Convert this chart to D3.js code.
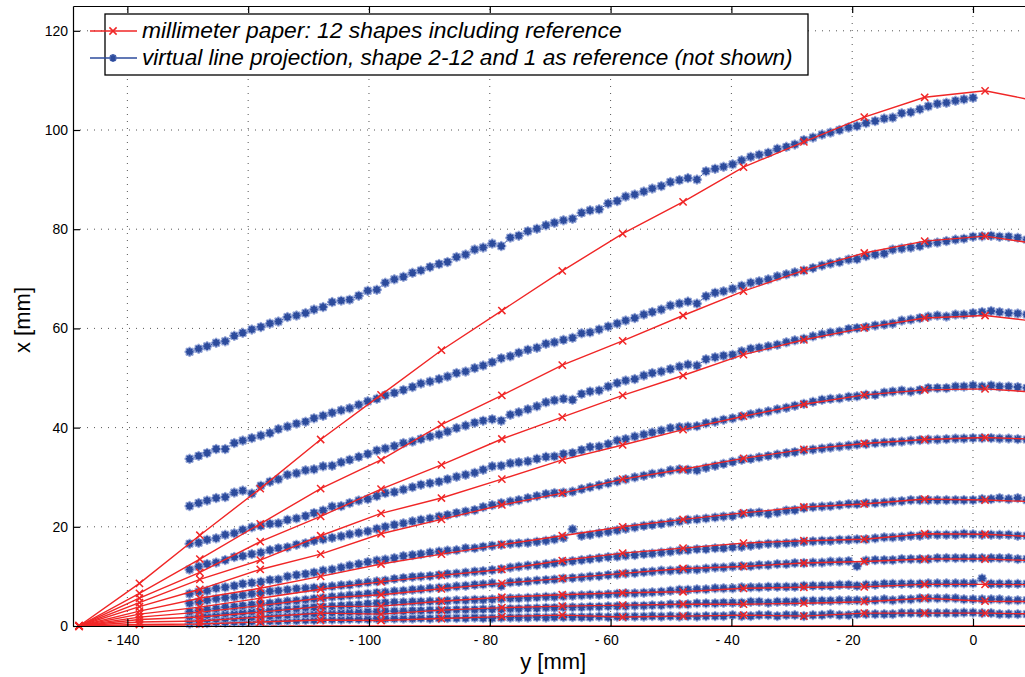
<!DOCTYPE html>
<html><head><meta charset="utf-8">
<script src="https://cdn.jsdelivr.net/npm/d3@7"></script>
<style>body{margin:0;background:#fff}svg{display:block}</style>
</head><body>
<svg id="chart" width="1025" height="677"></svg>
<script>
// ---------- DATA ----------
const xTicks = [-140, -120, -100, -80, -60, -40, -20, 0];
const yTicks = [0, 20, 40, 60, 80, 100, 120];
const legendLabels = ["millimeter paper: 12 shapes including reference",
  "virtual line projection, shape 2-12 and 1 as reference (not shown)"];

// millimeter paper sample positions (y [mm])
const paperY = [-148,-138,-128,-118,-108,-98,-88,-78,-68,-58,-48,-38,-28,-18,-8,2,12];
// millimeter paper shapes (x [mm])
const paperRef = [0,0,0,0,0,0,0,0,0,0,0,0,0,0,0,0,0];
const paperS2  = [0,0.3,0.4,0.8,1.2,1.1,1.5,1.9,2.2,1.8,2.0,2.2,2.0,2.6,2.6,2.6,2.4];
const paperS3  = [0,0.8,1.0,1.8,2.6,2.4,3.2,3.7,4.0,4.2,4.4,4.4,4.6,4.9,5.6,5.0,4.9];
const paperS4  = [0,1.3,1.8,2.8,3.9,4.0,5.0,5.8,6.3,6.7,6.9,7.6,7.8,7.9,8.4,8.4,8.3];
const paperS5  = [0,1.8,2.8,4.1,5.6,6.3,7.5,8.6,9.6,10.6,11.6,12.0,12.7,13.0,13.5,13.5,13.1];
const paperS6  = [0,2.4,3.8,5.6,7.4,8.9,10.2,11.4,13.2,14.7,15.7,16.7,17.2,17.5,18.6,18.5,17.9];
const paperS7  = [0,3.0,5.6,7.6,10.0,12.5,14.5,16.4,18.2,20.0,21.5,22.8,24.0,24.6,25.6,25.4,25.0];
const paperS8  = [0,3.9,7.4,11.4,14.5,18.6,21.5,24.4,26.8,29.6,31.6,33.8,35.6,36.8,37.6,38.0,37.6];
const paperS9  = [0,4.7,9.4,13.3,18.2,22.7,25.8,29.6,33.5,36.5,39.6,42.3,44.7,46.6,47.6,47.8,47.0];
const paperS10 = [0,5.6,10.8,17.0,22.1,27.6,32.5,37.7,42.1,46.5,50.5,54.7,57.7,60.1,62.1,62.6,61.2];
const paperS11 = [0,6.6,13.5,20.6,27.7,33.5,40.6,46.5,52.6,57.5,62.6,67.5,71.7,75.2,77.6,78.6,76.8];
const paperS12 = [0,8.6,18.3,27.7,37.6,46.6,55.6,63.6,71.6,79.1,85.5,92.5,97.6,102.6,106.6,107.9,105.5];

// virtual line projection sample positions (y [mm])
const projY = [-129.7,-128.2,-126.8,-125.3,-123.8,-122.3,-120.9,-119.4,-117.9,-116.4,
  -115.0,-113.5,-112.0,-110.5,-109.1,-107.6,-106.1,-104.6,-103.2,-101.7,
  -100.2,-98.7,-97.3,-95.8,-94.3,-92.8,-91.4,-89.9,-88.4,-87.0,
  -85.5,-84.0,-82.5,-81.1,-79.6,-78.1,-76.6,-75.2,-73.7,-72.2,
  -70.7,-69.3,-67.8,-66.3,-64.8,-63.4,-61.9,-60.4,-58.9,-57.5,
  -56.0,-54.5,-53.1,-51.6,-50.1,-48.6,-47.2,-45.7,-44.2,-42.7,
  -41.3,-39.8,-38.3,-36.8,-35.4,-33.9,-32.4,-30.9,-29.5,-28.0,
  -26.5,-25.0,-23.6,-22.1,-20.6,-19.2,-17.7,-16.2,-14.7,-13.3,
  -11.8,-10.3,-8.8,-7.4,-5.9,-4.4,-2.9,-1.5,0.0,1.5,
  3.0,4.4,5.9,7.4,8.9];
// projected shapes (x [mm])
const projS12 = [55.3,55.9,56.4,57.1,57.4,58.5,59.1,59.8,60.3,61.0,
  61.4,62.3,62.6,63.1,63.8,64.3,65.3,65.6,65.8,66.6,
  67.6,67.8,69.2,69.9,70.4,71.2,71.7,72.4,73.0,73.4,
  74.4,74.9,75.9,76.3,77.1,76.6,78.3,78.7,79.6,80.1,
  80.8,81.3,81.8,82.1,83.3,83.8,84.0,85.2,85.7,86.6,
  87.0,87.6,88.2,88.7,89.5,89.9,90.3,90.0,91.7,92.2,
  92.6,93.1,93.9,94.6,95.0,95.4,96.2,96.6,97.1,98.0,
  98.5,99.1,99.5,100.0,100.5,100.8,101.4,101.8,102.3,102.5,
  103.4,103.6,104.2,104.8,105.3,105.5,105.9,106.2,106.5];
const projS11 = [33.7,34.3,34.9,35.7,35.7,36.9,37.4,37.9,38.4,38.9,
  39.7,40.2,40.8,41.2,41.9,42.4,43.0,43.5,43.9,44.6,
  45.3,45.8,46.5,47.0,47.6,48.2,48.9,49.3,49.8,50.3,
  51.0,51.3,52.0,52.5,53.2,54.0,54.4,55.1,55.7,56.1,
  56.9,57.2,57.7,58.1,59.0,59.2,59.8,60.4,61.0,61.6,
  62.1,62.8,63.3,63.8,64.6,65.0,65.4,65.0,66.5,67.2,
  67.5,68.0,68.6,69.2,69.5,69.9,70.5,70.9,71.3,71.7,
  72.2,72.7,73.1,73.4,73.9,74.0,74.6,74.9,75.1,75.9,
  76.1,76.3,76.6,77.1,77.3,77.6,77.9,78.1,78.5,78.6,
  78.7,78.5,78.5,78.3,77.9];
const projS10 = [24.2,24.8,25.3,25.8,26.0,26.9,27.3,26.7,28.3,29.1,
  29.6,30.5,30.8,31.4,31.6,32.2,32.3,33.0,33.5,34.1,
  34.7,35.4,35.8,36.3,36.9,37.2,37.7,38.2,38.6,39.2,
  39.9,40.4,41.0,41.4,41.7,41.4,42.6,43.1,43.7,44.3,
  45.1,45.5,45.8,45.6,46.8,47.3,47.5,48.3,49.0,49.5,
  49.8,50.5,51.0,51.3,51.8,52.3,52.7,52.5,53.8,54.2,
  54.5,54.7,55.4,55.9,56.1,56.4,56.7,57.2,57.6,57.9,
  58.4,58.8,59.2,59.4,59.9,60.1,60.3,60.6,60.8,61.0,
  61.6,61.8,62.1,62.4,62.6,62.4,62.8,62.8,63.1,63.3,
  63.5,63.3,63.1,63.0,62.8];
const projS9 = [16.6,16.8,17.4,17.7,18.4,18.7,19.4,19.9,20.2,20.6,
  20.7,21.4,21.7,22.2,22.8,23.3,24.1,24.2,24.8,25.3,
  25.6,26.2,26.8,27.0,27.5,28.0,28.5,28.8,29.1,29.6,
  30.1,30.5,30.9,31.5,32.2,32.3,32.8,33.0,33.2,33.7,
  34.1,34.2,34.7,34.9,35.5,36.1,36.2,36.7,37.4,37.7,
  38.2,38.6,39.0,39.4,39.9,40.1,40.2,40.3,40.9,41.2,
  41.6,41.9,42.3,42.7,43.0,43.3,43.7,44.0,44.4,44.8,
  45.2,45.6,45.8,45.9,46.2,46.3,46.6,46.6,47.1,47.3,
  47.5,47.3,47.6,48.0,48.0,48.0,48.3,48.3,48.5,48.3,
  48.5,48.3,48.3,48.2,48.0];
const projS8 = [11.4,12.0,12.5,12.8,13.3,13.9,14.1,14.5,14.8,15.3,
  15.7,15.9,16.4,16.7,17.2,17.5,17.8,18.1,18.5,18.8,
  19.1,19.6,20.0,20.4,20.7,21.1,21.4,21.7,22.1,22.4,
  22.8,23.1,23.4,24.0,24.4,24.8,25.1,25.4,25.8,26.2,
  26.6,26.8,26.9,27.1,27.6,28.0,28.4,28.8,29.2,29.6,
  30.0,30.3,30.7,30.9,31.4,31.6,31.5,31.4,31.9,32.3,
  32.7,33.1,33.5,33.7,34.0,34.3,34.6,34.9,35.1,35.4,
  35.6,35.8,36.0,36.2,36.4,36.6,36.7,36.9,37.0,37.1,
  37.2,37.4,37.5,37.6,37.6,37.7,37.8,37.8,37.9,37.9,
  37.9,37.8,37.8,37.7,37.6];
const projS7 = [6.5,6.9,7.1,7.6,7.8,8.1,8.5,8.7,8.9,9.3,
  9.4,10.0,10.3,10.5,10.8,11.2,11.4,11.8,12.2,12.5,
  12.9,13.2,13.4,13.7,14.1,14.3,14.5,14.8,15.0,15.2,
  15.3,15.7,15.7,16.0,16.2,16.4,16.6,16.7,16.8,17.0,
  17.2,17.5,17.8,19.5,18.2,18.4,18.7,19.0,19.3,19.6,
  19.9,20.2,20.4,20.6,20.9,21.1,21.4,21.5,21.7,21.9,
  22.1,22.2,22.6,22.8,22.9,22.6,22.9,23.3,23.4,23.8,
  24.0,24.1,24.2,24.4,24.6,24.6,24.8,24.8,24.9,25.1,
  25.2,25.4,25.4,25.4,25.4,25.4,25.4,25.4,25.4,25.6,
  25.6,25.8,25.6,25.8,25.4];
const projS6 = [4.6,4.9,5.2,5.5,5.7,5.9,6.2,6.5,6.7,7.0,
  7.1,7.3,7.5,7.6,7.7,7.9,8.0,8.2,8.3,8.6,
  8.8,9.0,9.2,9.5,9.7,9.9,10.0,10.1,10.3,10.5,
  10.6,10.8,11.0,11.1,11.3,11.5,11.8,12.0,12.2,12.3,
  12.5,12.7,12.9,13.1,13.3,13.5,13.7,13.9,14.0,14.2,
  14.3,14.5,14.6,14.8,15.0,15.2,15.3,15.5,15.5,15.7,
  15.7,15.9,16.0,16.2,16.4,16.6,16.6,16.7,16.8,17.0,
  17.1,17.2,17.2,17.4,17.4,17.5,17.5,17.7,17.9,17.9,
  18.0,18.2,18.2,18.4,18.4,18.4,18.4,18.6,18.5,18.4,
  18.4,18.4,18.4,18.2,18.2];
const projS5 = [2.9,3.1,3.3,3.5,3.8,3.9,4.1,4.3,4.5,4.6,
  4.8,5.0,5.1,5.3,5.5,5.7,5.9,6.0,6.2,6.3,
  6.5,6.7,6.8,7.0,7.1,7.3,7.4,7.6,7.7,7.8,
  8.0,8.1,8.3,8.4,8.6,8.1,8.8,8.9,9.0,9.2,
  9.3,9.4,9.6,9.7,9.8,10.0,10.1,10.3,10.4,10.6,
  10.7,10.9,11.0,11.2,11.2,11.3,11.4,11.4,11.6,11.8,
  11.8,12.0,12.1,12.1,12.3,12.3,12.5,12.5,12.7,12.7,
  12.8,12.8,13.0,13.0,13.1,12.1,13.2,13.3,13.3,13.3,
  13.5,13.5,13.5,13.5,13.7,13.7,13.7,13.7,13.7,13.7,
  13.7,13.7,13.7,13.5,13.5];
const projS4 = [1.9,2.0,2.2,2.3,2.5,2.6,2.8,2.9,3.0,3.2,
  3.3,3.4,3.5,3.7,3.8,3.9,4.0,4.1,4.2,4.3,
  4.5,4.6,4.7,4.8,4.8,4.9,4.9,5.0,5.0,5.1,
  5.2,5.2,5.3,5.3,5.4,5.5,5.6,5.6,5.7,5.8,
  5.9,5.9,6.0,6.1,6.2,6.3,6.3,6.4,6.5,6.6,
  6.6,6.7,6.8,6.9,7.1,7.3,7.3,7.4,7.4,7.6,
  7.6,7.6,7.8,7.8,7.8,7.9,7.9,7.9,7.9,8.1,
  8.1,8.1,8.1,8.3,8.3,8.1,8.3,8.3,8.5,8.5,
  8.5,8.5,8.5,8.6,8.6,8.6,8.6,8.6,8.6,9.6,
  8.5,8.5,8.5,8.5,8.5];
const projS3 = [1.1,1.2,1.3,1.4,1.5,1.6,1.7,1.8,1.9,2.0,
  2.1,2.2,2.3,2.4,2.5,2.6,2.7,2.7,2.8,2.8,
  2.9,2.9,3.0,3.0,3.0,3.1,3.1,3.2,3.2,3.2,
  3.3,3.3,3.3,3.4,3.4,3.4,3.5,3.5,3.6,3.6,
  3.7,3.7,3.8,3.8,3.8,3.9,3.9,4.0,4.0,4.0,
  4.1,4.1,4.2,4.2,4.4,4.4,4.4,4.6,4.6,4.6,
  4.7,4.7,4.7,4.9,4.9,4.7,4.9,4.9,4.9,5.1,
  5.1,5.1,5.1,5.2,5.2,5.2,5.2,5.2,5.4,5.2,
  5.4,5.4,5.6,5.6,5.6,5.6,5.6,5.4,5.4,5.4,
  5.4,5.4,5.2,5.2,5.2];
const projS2 = [0.5,0.6,0.6,0.7,0.7,0.8,0.8,0.9,0.9,1.0,
  1.0,1.1,1.1,1.2,1.2,1.3,1.3,1.3,1.4,1.4,
  1.4,1.5,1.5,1.5,1.5,1.5,1.6,1.5,1.6,1.6,
  1.6,1.6,1.7,1.6,1.6,1.7,1.7,1.7,1.7,1.8,
  1.7,1.8,1.8,1.8,1.8,1.8,1.9,1.8,1.9,1.9,
  1.9,1.9,2.0,1.9,2.0,1.9,2.0,1.9,2.0,2.0,
  2.0,2.2,2.0,2.0,2.2,2.2,2.0,2.2,2.2,2.0,
  2.2,2.2,2.4,2.2,2.2,2.4,2.4,2.4,2.4,2.4,
  2.6,2.6,2.6,2.6,2.6,2.6,2.6,2.7,2.7,2.6,
  2.6,2.4,2.4,2.4,2.4];

const paperShapes = [paperS2,paperS3,paperS4,paperS5,paperS6,paperS7,paperS8,paperS9,paperS10,paperS11,paperS12];
const projShapes = [projS2,projS3,projS4,projS5,projS6,projS7,projS8,projS9,projS10,projS11,projS12];

// ---------- DRAW ----------
const RED = "#f02626", BLUE = "#2c4b9c", BLUE_HALO = "#93a4d6";
const FONT = "'Liberation Sans', Arial, Helvetica, sans-serif";
const svg = d3.select("#chart");
const x = d3.scaleLinear().domain([-149, 10]).range([73, 1033.4]);
const y = d3.scaleLinear().domain([0, 125]).range([626, 6]);
const [X0, X1] = x.range(), [Y0, Y1] = y.range();

const crossType = {draw(c, s){const r=Math.sqrt(s)/2;c.moveTo(-r,-r);c.lineTo(r,r);c.moveTo(r,-r);c.lineTo(-r,r);}};
const starType = {draw(c, s){const r=Math.sqrt(s)/2, d=r*0.7071;
  c.moveTo(-r,0);c.lineTo(r,0);c.moveTo(0,-r);c.lineTo(0,r);
  c.moveTo(-d,-d);c.lineTo(d,d);c.moveTo(d,-d);c.lineTo(-d,d);}};
const crossPath = d3.symbol().type(crossType).size(52)();
const starPath = d3.symbol().type(starType).size(56)();

// grid
const grid = svg.append("g").attr("stroke", "#555").attr("stroke-width", 1).attr("stroke-dasharray", "1,6");
grid.selectAll(".gx").data(xTicks).join("line")
  .attr("x1", d => x(d)).attr("x2", d => x(d)).attr("y1", Y0).attr("y2", Y1);
grid.selectAll(".gy").data(yTicks.filter(v => v > 0)).join("line")
  .attr("y1", d => y(d)).attr("y2", d => y(d)).attr("x1", X0).attr("x2", X1);

svg.append("clipPath").attr("id", "plot").append("rect")
  .attr("x", X0).attr("y", Y1).attr("width", X1 - X0).attr("height", Y0 - Y1);

const line = d3.line().x(d => x(d[0])).y(d => y(d[1]));

// reference shape (lies on the axis, drawn as line only)
svg.append("path").attr("d", line(paperRef.map((v, i) => [paperY[i], v])))
  .attr("fill", "none").attr("stroke", RED).attr("stroke-width", 1.4).attr("clip-path", "url(#plot)");

// projections (blue)
const blueG = svg.append("g");
projShapes.forEach(vals => {
  const pts = vals.map((v, i) => [projY[i], v]);
  blueG.append("path").attr("d", line(pts)).attr("fill", "none")
    .attr("stroke", BLUE).attr("stroke-width", 1).attr("clip-path", "url(#plot)");
  blueG.selectAll(null).data(pts).join("path")
    .attr("transform", d => `translate(${x(d[0])},${y(d[1])})`)
    .attr("d", starPath).attr("fill", "none").attr("stroke", BLUE_HALO).attr("stroke-width", 3.0).attr("stroke-linecap","round");
  blueG.selectAll(null).data(pts).join("path")
    .attr("transform", d => `translate(${x(d[0])},${y(d[1])})`)
    .attr("d", starPath).attr("fill", "none").attr("stroke", BLUE).attr("stroke-width", 1.9);
});

// millimeter paper (red)
const redG = svg.append("g");
paperShapes.forEach(vals => {
  const pts = vals.map((v, i) => [paperY[i], v]);
  redG.append("path").attr("d", line(pts)).attr("fill", "none")
    .attr("stroke", RED).attr("stroke-width", 1.4).attr("clip-path", "url(#plot)");
  redG.selectAll(null).data(pts).join("path")
    .attr("transform", d => `translate(${x(d[0])},${y(d[1])})`)
    .attr("d", crossPath).attr("fill", "none").attr("stroke", RED).attr("stroke-width", 1.5);
});

// axes
function styleAxis(g){
  g.selectAll(".domain").attr("stroke", "#000").attr("stroke-width", 1.2);
  g.selectAll(".tick line").attr("stroke", "#000").attr("stroke-width", 1.2);
  g.selectAll("text").attr("font-family", FONT).attr("font-size", 14).attr("fill", "#000");
}
const gx = svg.append("g").attr("transform", `translate(0,${Y0})`)
  .call(d3.axisBottom(x).tickValues(xTicks).tickSizeInner(-7).tickSizeOuter(0).tickPadding(9)
    .tickFormat(d => String(Math.abs(d))));
styleAxis(gx);
// MATLAB-style "- 140" labels: digits centred on tick, minus placed before them
gx.selectAll(".tick").each(function(d){
  if (d < 0) {
    const t = d3.select(this).select("text");
    const w = t.node().getComputedTextLength();
    d3.select(this).append("text").attr("x", -w/2 - 4).attr("y", t.attr("y")).attr("dy", t.attr("dy"))
      .attr("text-anchor", "end").attr("font-family", FONT).attr("font-size", 14).attr("fill", "#000").text("-");
  }
});
const gt = svg.append("g").attr("transform", `translate(0,${Y1})`)
  .call(d3.axisTop(x).tickValues(xTicks).tickSizeInner(-7).tickSizeOuter(0).tickFormat(""));
styleAxis(gt);
const gy = svg.append("g").attr("transform", `translate(${X0},0)`)
  .call(d3.axisLeft(y).tickValues(yTicks).tickSizeInner(-7).tickSizeOuter(0).tickPadding(5));
styleAxis(gy);

// axis labels
svg.append("text").attr("x", (X0 + X1) / 2).attr("y", 669).attr("text-anchor", "middle")
  .attr("font-family", FONT).attr("font-size", 22).text("y [mm]");
svg.append("text").attr("transform", `translate(30,${(Y0 + Y1) / 2 + 4}) rotate(-90)`).attr("text-anchor", "middle")
  .attr("font-family", FONT).attr("font-size", 22).text("x [mm]");

// legend
const lg = svg.append("g");
lg.append("rect").attr("x", 105).attr("y", 14).attr("width", 703).attr("height", 61)
  .attr("fill", "#fff").attr("stroke", "#000").attr("stroke-width", 1.3);
const rows = [{c: RED, sym: crossPath, yy: 31}, {c: BLUE, sym: starPath, yy: 58}];
rows.forEach((r, i) => {
  lg.append("line").attr("x1", 90).attr("x2", 137).attr("y1", r.yy).attr("y2", r.yy)
    .attr("stroke", r.c).attr("stroke-width", 1.4);
  if (i === 1) lg.append("path").attr("transform", `translate(113,${r.yy})`).attr("d", r.sym)
    .attr("fill", "none").attr("stroke", BLUE_HALO).attr("stroke-width", 2.8);
  lg.append("path").attr("transform", `translate(113,${r.yy})`).attr("d", r.sym)
    .attr("fill", "none").attr("stroke", r.c).attr("stroke-width", i === 1 ? 1.7 : 1.5);
  const t = lg.append("text").attr("x", 142).attr("y", r.yy + 7).attr("font-family", FONT)
    .attr("font-style", "italic").attr("font-size", 20).text(legendLabels[i]);
  const target = i === 0 ? 480 : 651;
  const w = t.node().getComputedTextLength();
  t.attr("font-size", 20 * target / w);
});
</script>
</body></html>
